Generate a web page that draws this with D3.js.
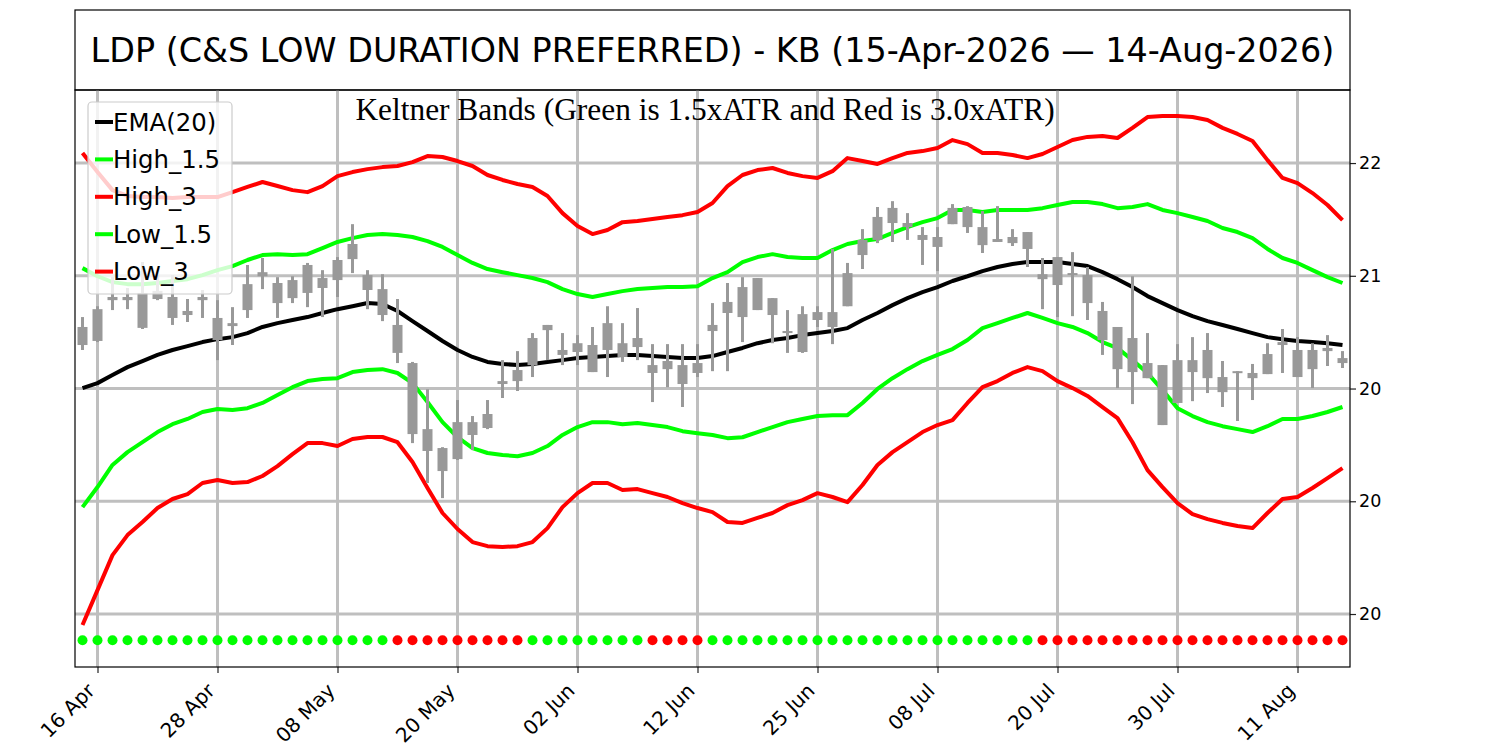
<!DOCTYPE html>
<html>
<head>
<meta charset="utf-8">
<script src="https://cdn.jsdelivr.net/npm/d3@7"></script>
<style>
  body { margin: 0; background: #fff; }
  svg { display: block; }
</style>
</head>
<body>
<svg id="chart" width="1500" height="750"></svg>
<script>
// trading days shown on the chart
var dates = [
  "2026-04-15","2026-04-16","2026-04-17","2026-04-20","2026-04-21","2026-04-22","2026-04-23","2026-04-24","2026-04-27","2026-04-28","2026-04-29","2026-04-30",
  "2026-05-01","2026-05-04","2026-05-05","2026-05-06","2026-05-07","2026-05-08","2026-05-11","2026-05-12","2026-05-13","2026-05-14","2026-05-15","2026-05-18","2026-05-19","2026-05-20","2026-05-21","2026-05-22","2026-05-26","2026-05-27","2026-05-28","2026-05-29",
  "2026-06-01","2026-06-02","2026-06-03","2026-06-04","2026-06-05","2026-06-08","2026-06-09","2026-06-10","2026-06-11","2026-06-12","2026-06-15","2026-06-16","2026-06-17","2026-06-18","2026-06-22","2026-06-23","2026-06-24","2026-06-25","2026-06-26","2026-06-29","2026-06-30",
  "2026-07-01","2026-07-02","2026-07-06","2026-07-07","2026-07-08","2026-07-09","2026-07-10","2026-07-13","2026-07-14","2026-07-15","2026-07-16","2026-07-17","2026-07-20","2026-07-21","2026-07-22","2026-07-23","2026-07-24","2026-07-27","2026-07-28","2026-07-29","2026-07-30","2026-07-31",
  "2026-08-03","2026-08-04","2026-08-05","2026-08-06","2026-08-07","2026-08-10","2026-08-11","2026-08-12","2026-08-13","2026-08-14"
]

// OHLC
var openVals = [20.773,20.852,20.906,20.906,20.924,20.933,20.906,20.844,20.906,20.813,20.790,20.963,21.016,20.968,20.981,21.048,20.990,21.070,21.141,21.003,20.941,
  20.782,20.613,20.320,20.236,20.351,20.351,20.387,20.533,20.582,20.724,20.782,20.671,20.701,20.693,20.790,20.701,20.724,20.604,20.622,20.604,20.613,
  20.782,20.884,20.950,20.990,20.901,20.755,20.830,20.839,20.839,21.012,21.159,21.261,21.301,21.234,21.181,21.172,21.301,21.305,21.216,21.163,21.172,21.194,
  21.007,21.083,21.012,21.003,20.844,20.773,20.724,20.613,20.604,20.626,20.626,20.671,20.551,20.577,20.569,20.653,20.706,20.671,20.671,20.680,20.635]
var highVals = [20.817,20.865,20.994,20.946,21.061,21.003,21.003,20.897,20.937,20.892,20.861,21.048,21.079,20.994,20.998,21.057,21.025,21.083,21.229,21.025,21.007,
  20.897,20.618,20.497,20.240,20.449,20.378,20.449,20.626,20.666,20.746,20.782,20.746,20.737,20.773,20.865,20.790,20.857,20.697,20.697,20.697,20.697,
  20.879,20.968,20.994,20.990,20.901,20.848,20.865,20.865,21.119,21.057,21.207,21.305,21.331,21.278,21.216,21.216,21.318,21.309,21.287,21.309,21.207,21.194,
  21.079,21.083,21.105,21.039,20.884,20.773,20.998,20.746,20.604,20.697,20.728,20.746,20.622,20.577,20.609,20.701,20.764,20.728,20.701,20.737,20.666]
var lowVals = [20.671,20.706,20.848,20.852,20.764,20.892,20.782,20.795,20.813,20.626,20.693,20.813,20.941,20.813,20.879,20.861,20.817,20.906,21.012,20.852,20.799,
  20.613,20.258,20.081,20.014,20.183,20.227,20.320,20.458,20.489,20.551,20.626,20.604,20.604,20.573,20.551,20.618,20.626,20.440,20.506,20.418,20.551,
  20.577,20.577,20.706,20.848,20.701,20.658,20.658,20.773,20.697,20.865,21.030,21.145,21.150,21.159,21.048,21.021,21.229,21.190,21.101,21.150,21.132,21.039,
  20.852,20.817,20.821,20.804,20.649,20.502,20.431,20.546,20.338,20.436,20.444,20.480,20.418,20.356,20.449,20.564,20.569,20.551,20.502,20.600,20.591]
var closeVals = [20.693,20.711,20.892,20.892,20.769,20.897,20.813,20.826,20.892,20.715,20.777,20.848,20.998,20.879,20.901,20.924,20.946,20.981,21.074,20.937,20.826,
  20.658,20.298,20.223,20.134,20.187,20.294,20.325,20.520,20.533,20.604,20.759,20.649,20.662,20.573,20.671,20.640,20.684,20.569,20.586,20.520,20.569,
  20.755,20.835,20.817,20.848,20.826,20.746,20.662,20.804,20.773,20.865,21.092,21.159,21.234,21.216,21.159,21.128,21.229,21.216,21.136,21.150,21.145,21.119,
  20.985,20.959,21.003,20.879,20.715,20.586,20.573,20.546,20.338,20.436,20.573,20.546,20.484,20.569,20.546,20.564,20.693,20.551,20.586,20.666,20.613]

// Keltner lines
var ema20 = [20.502,20.524,20.560,20.595,20.622,20.649,20.671,20.688,20.706,20.719,20.728,20.746,20.773,20.790,20.804,20.817,20.835,20.852,20.865,20.879,20.875,
  20.844,20.799,20.755,20.711,20.671,20.640,20.618,20.609,20.604,20.609,20.618,20.626,20.635,20.640,20.644,20.649,20.649,20.644,20.640,20.635,20.635,
  20.644,20.662,20.680,20.701,20.715,20.724,20.737,20.746,20.755,20.768,20.804,20.835,20.870,20.901,20.928,20.950,20.977,20.998,21.021,21.039,21.052,21.061,
  21.061,21.061,21.052,21.043,21.016,20.985,20.950,20.910,20.879,20.848,20.821,20.799,20.782,20.764,20.746,20.728,20.719,20.711,20.706,20.701,20.693]
var high15 = [21.034,20.998,20.972,20.963,20.963,20.968,20.977,20.985,21.003,21.025,21.043,21.070,21.092,21.096,21.092,21.096,21.123,21.150,21.167,21.181,21.185,
  21.181,21.172,21.154,21.128,21.092,21.057,21.030,21.016,21.003,20.990,20.972,20.941,20.919,20.906,20.919,20.932,20.941,20.946,20.950,20.950,20.954,
  20.990,21.016,21.061,21.083,21.096,21.083,21.079,21.079,21.114,21.141,21.154,21.163,21.190,21.216,21.238,21.256,21.292,21.292,21.283,21.292,21.292,21.292,
  21.300,21.314,21.327,21.327,21.318,21.300,21.305,21.318,21.292,21.278,21.261,21.243,21.212,21.194,21.167,21.119,21.079,21.057,21.025,20.994,20.968]
var high3 = [21.545,21.460,21.380,21.354,21.349,21.349,21.345,21.349,21.349,21.349,21.371,21.394,21.416,21.398,21.380,21.371,21.398,21.442,21.460,21.473,21.482,
  21.487,21.504,21.531,21.527,21.509,21.487,21.447,21.425,21.407,21.394,21.354,21.278,21.221,21.185,21.203,21.238,21.243,21.252,21.261,21.269,21.283,
  21.323,21.398,21.447,21.469,21.478,21.456,21.442,21.434,21.464,21.522,21.509,21.496,21.522,21.545,21.553,21.567,21.602,21.584,21.545,21.545,21.536,21.522,
  21.540,21.571,21.602,21.616,21.620,21.611,21.656,21.704,21.709,21.709,21.704,21.691,21.656,21.629,21.598,21.513,21.434,21.411,21.367,21.314,21.247]
var low15 = [19.974,20.063,20.161,20.218,20.262,20.307,20.342,20.365,20.396,20.409,20.405,20.413,20.436,20.471,20.506,20.533,20.542,20.546,20.573,20.582,20.586,
  20.569,20.524,20.440,20.351,20.284,20.236,20.214,20.205,20.200,20.214,20.245,20.294,20.329,20.351,20.351,20.342,20.347,20.338,20.329,20.311,20.302,
  20.294,20.280,20.284,20.307,20.329,20.351,20.365,20.378,20.382,20.382,20.436,20.498,20.546,20.586,20.622,20.649,20.675,20.715,20.768,20.790,20.813,20.835,
  20.813,20.790,20.773,20.746,20.706,20.679,20.626,20.569,20.493,20.413,20.378,20.351,20.333,20.320,20.307,20.333,20.365,20.365,20.378,20.396,20.418]
var low3 = [19.451,19.606,19.761,19.850,19.908,19.970,20.010,20.032,20.081,20.094,20.081,20.085,20.112,20.156,20.209,20.258,20.258,20.245,20.276,20.285,20.285,
  20.262,20.174,20.059,19.948,19.877,19.819,19.801,19.797,19.801,19.819,19.881,19.974,20.036,20.081,20.081,20.050,20.054,20.036,20.019,19.992,19.970,
  19.952,19.908,19.904,19.926,19.948,19.983,20.005,20.036,20.019,19.996,20.072,20.161,20.218,20.262,20.307,20.338,20.360,20.436,20.506,20.533,20.569,20.595,
  20.577,20.533,20.502,20.467,20.418,20.369,20.262,20.138,20.063,19.992,19.943,19.921,19.904,19.890,19.881,19.948,20.010,20.019,20.059,20.103,20.147]

// signal dots: 1 = green, 0 = red
var signal = [1,1,1,1,1,1,1,1,1,1,1,1,1,1,1,1,1,1,1,1,1,
  0,0,0,0,0,0,0,0,0,1,1,1,1,1,1,1,1,0,0,0,0,
  1,1,1,1,1,1,1,1,1,1,1,1,1,1,1,1,1,1,1,1,1,1,
  0,0,0,0,0,0,0,0,0,0,0,0,0,0,0,0,0,0,0,0,0]
var signalLevel = 19.384

var xTickIdx = [1, 9, 17, 25, 33, 41, 49, 57, 65, 73, 81]
var yTickValues = [19.5, 20.0, 20.5, 21.0, 21.5]
var yTickLabels = ["20", "20", "20", "21", "22"]
var yDomain = [19.265, 21.824]

var seriesInfo = [
  { name: "EMA(20)", values: ema20, color: "#000000" },
  { name: "High_1.5", values: high15, color: "#00ff00" },
  { name: "High_3", values: high3, color: "#ff0000" },
  { name: "Low_1.5", values: low15, color: "#00ff00" },
  { name: "Low_3", values: low3, color: "#ff0000" }
]

var W = 1500, H = 750
var margin = { top: 90, right: 150, bottom: 83, left: 75 }
var sans = "'DejaVu Sans', Verdana, sans-serif"
var serif = "'Liberation Serif', 'Times New Roman', serif"
var gridColor = "#bfbfbf"
var candleColor = "#999999"

var svg = d3.select("#chart")
var parseDate = d3.timeParse("%Y-%m-%d")
var fmtTick = d3.timeFormat("%d %b")

var xScale = d3.scaleLinear()
  .domain([-0.5, dates.length - 0.5])
  .range([margin.left, W - margin.right])

var yScale = d3.scaleLinear()
  .domain(yDomain)
  .range([H - margin.bottom, margin.top])

// title box
svg.append("rect")
  .attr("x", margin.left)
  .attr("y", 10)
  .attr("width", W - margin.left - margin.right)
  .attr("height", margin.top - 10)
  .attr("fill", "#fff")
  .attr("stroke", "#000")
  .attr("stroke-width", 1.2)

svg.append("text")
  .attr("x", (margin.left + W - margin.right) / 2)
  .attr("y", 62)
  .attr("text-anchor", "middle")
  .style("font-family", sans)
  .style("font-size", "33.4px")
  .text("LDP (C&S LOW DURATION PREFERRED) - KB (15-Apr-2026 \u2014 14-Aug-2026)")

// grid
var grid = svg.append("g").attr("class", "grid")
grid.selectAll(".vgrid")
  .data(xTickIdx)
  .enter()
  .append("line")
  .attr("x1", d => xScale(d))
  .attr("x2", d => xScale(d))
  .attr("y1", margin.top)
  .attr("y2", H - margin.bottom)
  .attr("stroke", gridColor)
  .attr("stroke-width", 3)

grid.selectAll(".hgrid")
  .data(yTickValues)
  .enter()
  .append("line")
  .attr("x1", margin.left)
  .attr("x2", W - margin.right)
  .attr("y1", d => yScale(d))
  .attr("y2", d => yScale(d))
  .attr("stroke", gridColor)
  .attr("stroke-width", 3)

// bands and EMA
var line = d3.line()
  .x((d, i) => xScale(i))
  .y(d => yScale(d))

svg.selectAll(".band")
  .data(seriesInfo)
  .enter()
  .append("path")
  .attr("class", "band")
  .attr("d", d => line(d.values))
  .attr("fill", "none")
  .attr("stroke", d => d.color)
  .attr("stroke-width", 4)
  .attr("stroke-linejoin", "round")

// candles
var candles = svg.append("g").attr("class", "candles")
candles.selectAll(".wick")
  .data(d3.range(dates.length))
  .enter()
  .append("line")
  .attr("x1", i => xScale(i))
  .attr("x2", i => xScale(i))
  .attr("y1", i => yScale(highVals[i]))
  .attr("y2", i => yScale(lowVals[i]))
  .attr("stroke", candleColor)
  .attr("stroke-width", 3)

candles.selectAll(".body")
  .data(d3.range(dates.length))
  .enter()
  .append("rect")
  .attr("x", i => xScale(i) - 5)
  .attr("width", 10)
  .attr("y", i => yScale(Math.max(openVals[i], closeVals[i])))
  .attr("height", i => Math.max(2, Math.abs(yScale(openVals[i]) - yScale(closeVals[i]))))
  .attr("fill", candleColor)

// signal dots
svg.selectAll(".signal")
  .data(signal)
  .enter()
  .append("circle")
  .attr("cx", (d, i) => xScale(i))
  .attr("cy", yScale(signalLevel))
  .attr("r", 5)
  .attr("fill", d => d === 1 ? "#00ff00" : "#ff0000")

// axes
var xAxis = d3.axisBottom(xScale)
  .tickValues(xTickIdx)
  .tickFormat(i => fmtTick(parseDate(dates[i])))
  .tickSize(6)
  .tickSizeOuter(0)

var gx = svg.append("g")
  .attr("transform", `translate(0,${H - margin.bottom})`)
  .call(xAxis)
gx.select(".domain").remove()
gx.selectAll(".tick line").attr("stroke", "#222").attr("stroke-width", 1.2)
gx.selectAll(".tick text")
  .attr("y", 0)
  .attr("dy", 0)
  .attr("transform", "translate(-2,25) rotate(-45)")
  .attr("text-anchor", "end")
  .style("font-family", sans)
  .style("font-size", "20px")
  .attr("fill", "#000")

var yAxis = d3.axisRight(yScale)
  .tickValues(yTickValues)
  .tickFormat((d, i) => yTickLabels[i])
  .tickSize(6)
  .tickSizeOuter(0)

var gy = svg.append("g")
  .attr("transform", `translate(${W - margin.right},0)`)
  .call(yAxis)
gy.select(".domain").remove()
gy.selectAll(".tick line").attr("stroke", "#222").attr("stroke-width", 1.2)
gy.selectAll(".tick text")
  .style("font-family", sans)
  .style("font-size", "17.5px")
  .attr("fill", "#000")

// axes frame
svg.append("rect")
  .attr("x", margin.left)
  .attr("y", margin.top)
  .attr("width", W - margin.left - margin.right)
  .attr("height", H - margin.top - margin.bottom)
  .attr("fill", "none")
  .attr("stroke", "#000")
  .attr("stroke-width", 1.2)

// subtitle
svg.append("text")
  .attr("x", 705)
  .attr("y", 120)
  .attr("text-anchor", "middle")
  .style("font-family", serif)
  .style("font-size", "31.4px")
  .text("Keltner Bands (Green is 1.5xATR and Red is 3.0xATR)")

// legend
var legend = svg.append("g").attr("class", "legend")
legend.append("rect")
  .attr("x", 88)
  .attr("y", 102)
  .attr("width", 144)
  .attr("height", 192)
  .attr("rx", 4)
  .attr("fill", "#fff")
  .attr("fill-opacity", 0.8)
  .attr("stroke", "#cccccc")
  .attr("stroke-width", 1.2)

var entry = legend.selectAll(".entry")
  .data(seriesInfo)
  .enter()
  .append("g")
  .attr("transform", (d, i) => `translate(0,${122 + i * 37.4})`)

entry.append("line")
  .attr("x1", 95)
  .attr("x2", 113)
  .attr("stroke", d => d.color)
  .attr("stroke-width", 4)

entry.append("text")
  .attr("x", 113)
  .attr("dy", "0.35em")
  .style("font-family", sans)
  .style("font-size", "24.4px")
  .text(d => d.name)
</script>
</body>
</html>
